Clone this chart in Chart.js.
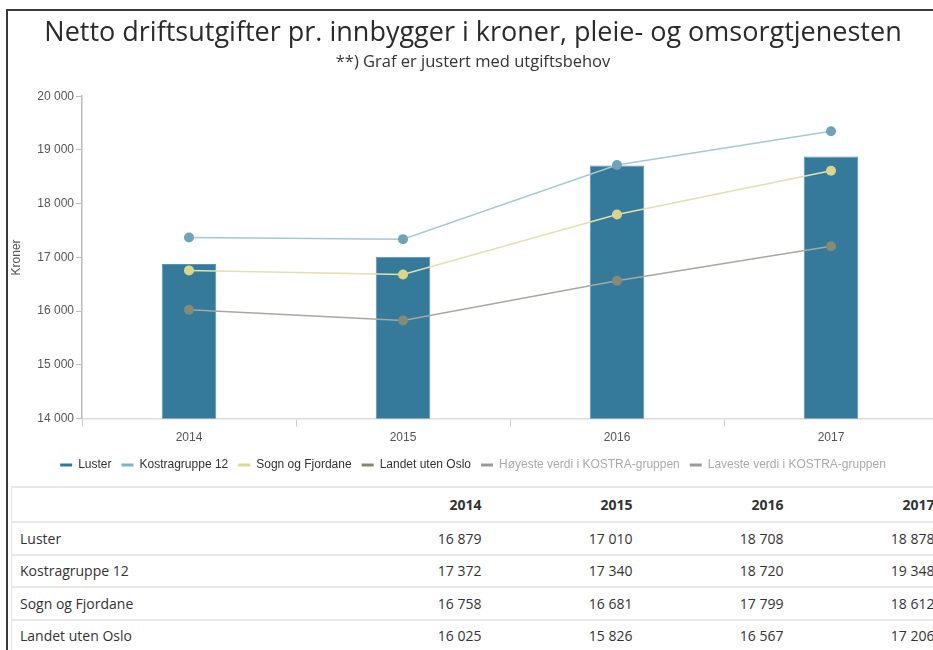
<!DOCTYPE html>
<html>
<head>
<meta charset="utf-8">
<script src="https://cdn.jsdelivr.net/npm/chart.js@4"></script>
<style>
  html, body { margin: 0; padding: 0; background: #fff; overflow: hidden; }
  .frame {
    position: absolute; left: 6px; top: 9px; width: 1000px; height: 700px;
    border-left: 2px solid #3a3a3a; border-top: 2px solid #3a3a3a;
  }
  #chartBox { position: absolute; left: 8px; top: 11px; }
  table.data {
    position: absolute; left: 11px; top: 486px; width: 931px; table-layout: fixed;
    border-collapse: collapse; font-family: "Open Sans", sans-serif; font-size: 14px; color: #333;
    border-left: 1px solid #e4e4e4; border-top: 2px solid #e8e8e8;
  }
  table.data td, table.data th { padding: 0 8px; height: 30.5px; border-bottom: 2px solid #e8e8e8; text-align: right; }
  table.data th { font-weight: bold; height: 33px; }
  table.data td:first-child, table.data th:first-child { text-align: left; }
</style>
</head>
<body>
<div class="frame"></div>
<div id="chartBox"><canvas id="utgiftChart" width="938" height="471"></canvas></div>
<table class="data" id="dataTable"></table>

<script>
// === DATA ===
const years = ['2014', '2015', '2016', '2017'];
const luster = [16879, 17010, 18708, 18878];
const kostragruppe12 = [17372, 17340, 18720, 19348];
const sognOgFjordane = [16758, 16681, 17799, 18612];
const landetUtenOslo = [16025, 15826, 16567, 17206];
const hoyesteVerdi = [];
const lavesteVerdi = [];
const yTicks = [14000, 15000, 16000, 17000, 18000, 19000, 20000];

const fmt = v => String(v).replace(/\B(?=(\d{3})+(?!\d))/g, ' ');

// legend entries (last two are greyed out like disabled series)
const legendColors = ['#2f7a9c', '#7fb3c8', '#d9d89a', '#7e8a70', '#9a9a9a', '#9a9a9a'];
const legendText = ['#333', '#333', '#333', '#333', '#aaa', '#aaa'];

function buildChart() {
    const ctx = document.getElementById('utgiftChart');

    const lineSet = (label, data, line, point) => ({
        type: 'line', label, data, order: 0,
        borderColor: line, backgroundColor: point, borderWidth: 1.5,
        pointRadius: 5, pointHoverRadius: 6, pointBackgroundColor: point, pointBorderWidth: 0,
        tension: 0
    });

    new Chart(ctx, {
        type: 'bar',
        data: {
            labels: years,
            datasets: [
                { label: 'Luster', data: luster, backgroundColor: '#357a9a', borderColor: '#5a93ad', borderWidth: 1,
                  barPercentage: 0.255, categoryPercentage: 1, order: 1 },
                lineSet('Kostragruppe 12', kostragruppe12, '#a3c8d6', '#6fa3b9'),
                lineSet('Sogn og Fjordane', sognOgFjordane, '#e2e0b0', '#dbd58a'),
                lineSet('Landet uten Oslo', landetUtenOslo, '#a7a9a0', '#878b76'),
                lineSet('Høyeste verdi i KOSTRA-gruppen', hoyesteVerdi, '#9a9a9a', '#9a9a9a'),
                lineSet('Laveste verdi i KOSTRA-gruppen', lavesteVerdi, '#9a9a9a', '#9a9a9a')
            ]
        },
        options: {
            responsive: false,
            devicePixelRatio: 1,
            animation: false,
            layout: { padding: { right: 8, bottom: 1 } },
            plugins: {
                title: {
                    display: true,
                    text: 'Netto driftsutgifter pr. innbygger i kroner, pleie- og omsorgtjenesten',
                    color: '#2b2b2b', font: { family: 'Open Sans', size: 27, weight: 'normal' },
                    padding: { top: 6, bottom: 0 }
                },
                subtitle: {
                    display: true,
                    text: '**) Graf er justert med utgiftsbehov',
                    color: '#333', font: { family: 'Open Sans', size: 16.5 },
                    padding: { top: 3, bottom: 24 }
                },
                legend: {
                    position: 'bottom',
                    labels: {
                        font: { family: 'Liberation Sans', size: 12 },
                        boxWidth: 12, padding: 10, usePointStyle: true, pointStyleWidth: 12,
                        generateLabels: chart => chart.data.datasets.map((ds, i) => ({
                            text: ds.label, datasetIndex: i,
                            pointStyle: 'line', lineWidth: 3,
                            strokeStyle: legendColors[i], fillStyle: legendColors[i],
                            fontColor: legendText[i], hidden: false
                        }))
                    }
                },
                tooltip: { enabled: false }
            },
            scales: {
                x: {
                    grid: { display: true, offset: true, drawOnChartArea: false, color: '#ccc', tickLength: 8 },
                    border: { color: '#dcdcdc', width: 1.5 },
                    ticks: { color: '#555', font: { family: 'Liberation Sans', size: 12 }, padding: 4 }
                },
                y: {
                    min: 14000, max: 20000,
                    afterBuildTicks: s => { s.ticks = yTicks.map(v => ({ value: v })); },
                    grid: { drawOnChartArea: false, color: '#bbb', tickLength: 6 },
                    border: { color: '#bbb', width: 1.5 },
                    ticks: { color: '#555', font: { family: 'Liberation Sans', size: 12 }, padding: 2, callback: v => fmt(v) },
                    title: { display: true, text: 'Kroner', color: '#555', font: { family: 'Liberation Sans', size: 12 }, padding: { top: 1, bottom: 0 } },
                    afterFit: s => { s.width = 74; }
                }
            }
        }
    });
}

function buildTable() {
    const rows = [['Luster', luster], ['Kostragruppe 12', kostragruppe12],
                  ['Sogn og Fjordane', sognOgFjordane], ['Landet uten Oslo', landetUtenOslo]];
    let html = '<colgroup><col style="width:327px">' + years.map(() => '<col style="width:151px">').join('') + '</colgroup>';
    html += '<tr><th></th>' + years.map(y => '<th>' + y + '</th>').join('') + '</tr>';
    rows.forEach(([name, vals]) => {
        html += '<tr><td>' + name + '</td>' + vals.map(v => '<td>' + fmt(v) + '</td>').join('') + '</tr>';
    });
    document.getElementById('dataTable').innerHTML = html;
}

buildChart();
buildTable();
</script>
</body>
</html>
